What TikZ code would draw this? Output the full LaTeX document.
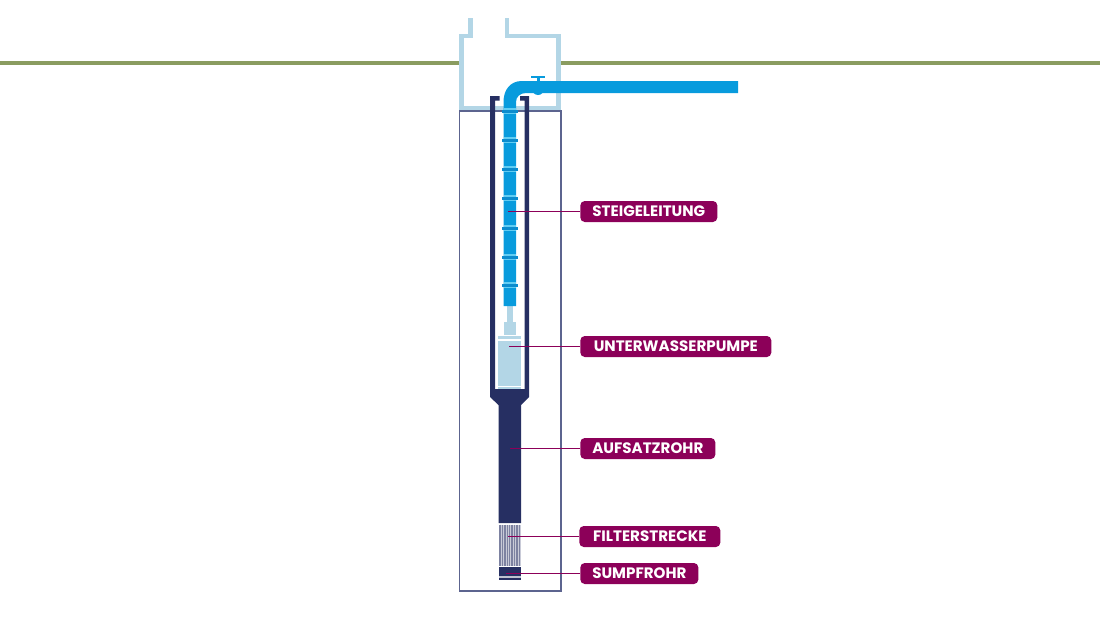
\documentclass[tikz,border=0pt]{standalone}
\usepackage{xcolor}
\usepackage{fontspec}
\setmainfont{Poppins}
\usetikzlibrary{positioning}
\definecolor{navy}{HTML}{262F62}
\definecolor{frame}{HTML}{5C648F}
\definecolor{ground}{HTML}{8A9C60}
\definecolor{shaft}{HTML}{B3D6E6}
\definecolor{water}{HTML}{089BDD}
\definecolor{band}{HTML}{0C8CCE}
\definecolor{glow}{HTML}{62CDF3}
\definecolor{tagred}{HTML}{8C0059}

\begin{document}
\begin{tikzpicture}[
    x=0.02cm, y=-0.02cm,
    tag/.style={
      rectangle, rounded corners=2.5pt,
      fill=tagred, text=white,
      font=\fontsize{8.6}{10}\selectfont\bfseries,
      inner sep=0pt, minimum height=0.42cm, anchor=west
    },
    leader/.style={draw=tagred, line width=0.55pt},
    wall/.style={draw=shaft, line width=2.7pt},
    filterline/.style={draw=navy!60, line width=0.8pt}
  ]

    \useasboundingbox (0,0) rectangle (1100,619);

    % ── Ground line ───────────────────────────────────────────────────────
    \fill[ground] (0,61) rectangle (459,65);
    \fill[ground] (561,61) rectangle (1100,65);

    % ── Shaft ─────────────────────────────────────────────────────────────
    \draw[wall] (470.5,18) -- (470.5,36) -- (461.5,36) -- (461.5,108.5) -- (558.5,108.5) -- (558.5,36) -- (507,36) -- (507,18);
    \draw[draw=frame, line width=0.7pt] (459.5,111) rectangle (561,591);

    % ── Casing, tapered into the riser ────────────────────────────────────
    \fill[navy] (490,96) -- (499.5,96) -- (499.5,100.5) -- (495,100.5) -- (495,389) -- (524.5,389)
      -- (524.5,100.5) -- (520,100.5) -- (520,96) -- (529,96) -- (529,397) -- (521,405)
      -- (521,523) -- (498.5,523) -- (498.5,405) -- (490,397) -- cycle;

    % ── Pump ──────────────────────────────────────────────────────────────
    \fill[shaft] (507,306) rectangle (513,322);
    \fill[shaft] (504,322) rectangle (516,335);
    \fill[shaft] (498,336) rectangle (521,339);
    \fill[shaft] (498,340.5) rectangle (521,386);
    \fill[shaft] (498,387) rectangle (521,388.5);

    % ── Rising pipe ───────────────────────────────────────────────────────
    \fill[water] (503.5,306) -- (503.5,102) .. controls (503.5,90) and (510,81) .. (522,81)
      -- (738,81) -- (738,93) -- (526,93) .. controls (520,93) and (516,97) .. (516,102)
      -- (516,306) -- cycle;
    \foreach \y in {111,140,169,198,228,257,285} {
      \fill[glow] (504,\y-3) rectangle (516,\y+3);
      \fill[band] (502,\y-1.5) rectangle (517.5,\y+1.5);
    }

    % ── Valve ─────────────────────────────────────────────────────────────
    \fill[water] (538,89) circle (6);
    \fill[water] (537,77) rectangle (539.5,83);
    \fill[water] (531,76) rectangle (545,78);

    % ── Filter and sump ───────────────────────────────────────────────────
    \fill[navy!25] (499,524.5) rectangle (521,566);
    \foreach \x in {500,502.4,...,520.5}
      \draw[filterline] (\x,524.5) -- (\x,566);
    \fill[navy] (499,567) rectangle (521,576);
    \fill[navy!30] (499,576) rectangle (521,578);
    \fill[navy] (499,578) rectangle (521,580);

    % ── Labels ────────────────────────────────────────────────────────────
    \node[tag, minimum width=2.74cm] (steige) at (580,211.5) {STEIGELEITUNG};
    \node[tag, minimum width=3.82cm] (pumpe)  at (580,346.5) {UNTERWASSERPUMPE};
    \node[tag, minimum width=2.70cm] (rohr)   at (580,448.5) {AUFSATZROHR};
    \node[tag, minimum width=2.82cm] (filter) at (579,536.5) {FILTERSTRECKE};
    \node[tag, minimum width=2.36cm] (sumpf)  at (580,573.5) {SUMPFROHR};

    % ── Leader ends ───────────────────────────────────────────────────────
    \coordinate (p_steige) at (508,211.5);
    \coordinate (p_pumpe)  at (509,346.5);
    \coordinate (p_rohr)   at (510,448.5);
    \coordinate (p_filter) at (508,536.5);
    \coordinate (p_sumpf)  at (506,573.5);

    % ── Leaders ───────────────────────────────────────────────────────────
    \draw[leader] (p_steige) -- (steige);
    \draw[leader] (p_pumpe)  -- (pumpe);
    \draw[leader] (p_rohr)   -- (rohr);
    \draw[leader] (p_filter) -- (filter);
    \draw[leader] (p_sumpf)  -- (sumpf);

  \end{tikzpicture}
\end{document}
